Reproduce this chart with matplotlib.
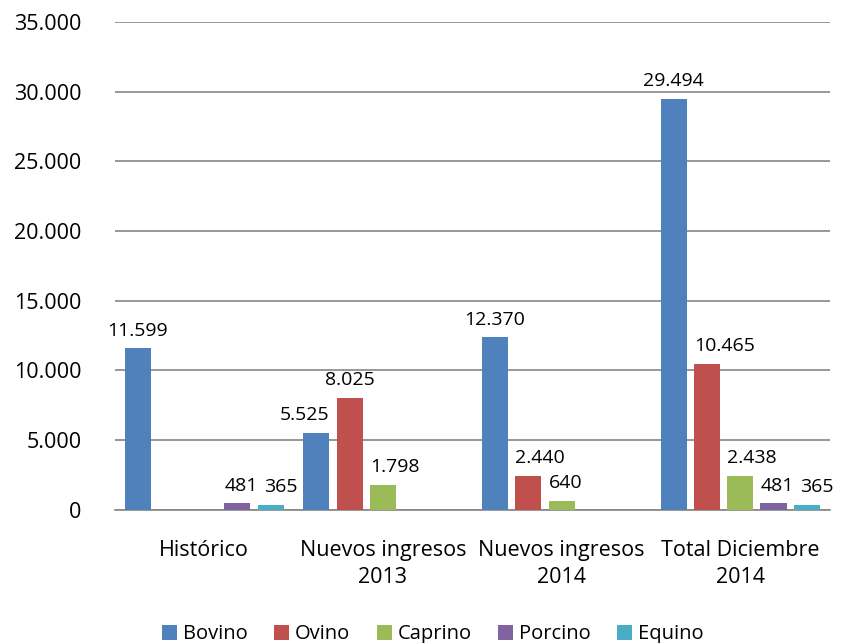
import numpy as np
import matplotlib.pyplot as plt
import matplotlib.ticker as ticker

categories = ['Histórico', 'Nuevos ingresos\n2013', 'Nuevos ingresos\n2014', 'Total Diciembre\n2014']
series = ['Bovino', 'Ovino', 'Caprino', 'Porcino', 'Equino']
bovino = [11599, 5525, 12370, 29494]
ovino = [0, 8025, 2440, 10465]
caprino = [0, 1798, 640, 2438]
porcino = [481, 0, 0, 481]
equino = [365, 0, 0, 365]
colors = ['#4f81bd', '#c0504d', '#9bbb59', '#8064a2', '#4bacc6']

plt.rcParams['font.family'] = ['Open Sans', 'DejaVu Sans']

def fmt(v):
    return '{:,.0f}'.format(v).replace(',', '.')

fig = plt.figure(figsize=(8.44, 6.43), dpi=100)
ax = fig.add_axes([0.136, 0.207, 0.847, 0.759])

x = np.arange(len(categories))
pitch = 0.186
width = 0.146
data = [bovino, ovino, caprino, porcino, equino]
bars = []
for i, (name, vals) in enumerate(zip(series, data)):
    pos = x + (i - 2) * pitch
    bars.append(ax.bar(pos, vals, width, color=colors[i], label=name, zorder=3))

ax.set_xlim(-0.5, 3.5)
ax.set_ylim(0, 35000)
ax.yaxis.set_major_locator(ticker.MultipleLocator(5000))
ax.yaxis.set_major_formatter(ticker.FuncFormatter(lambda v, p: fmt(v)))
ax.grid(axis='y', color='#868686', linewidth=1.2, zorder=0)
for s in ['top', 'right', 'left']:
    ax.spines[s].set_visible(False)
ax.spines['bottom'].set_color('#868686')
ax.spines['bottom'].set_linewidth(1.2)
ax.tick_params(axis='both', length=0)
ax.tick_params(axis='y', pad=24, labelsize=15.5)
ax.tick_params(axis='x', pad=22, labelsize=15.5)
ax.set_xticks(x)
ax.set_xticklabels(categories, linespacing=1.35)

# data labels: tallest bar centred, the one before it right-aligned, others left-aligned,
# nudged right only when they would overlap the previous label
fig.canvas.draw()
renderer = fig.canvas.get_renderer()
for g in range(len(categories)):
    vals = [d[g] for d in data]
    top = int(np.argmax(vals))
    prev = None
    for i in range(len(series)):
        v = vals[i]
        if v <= 0:
            continue
        r = bars[i][g]
        if i == top:
            xa, ha = r.get_x() + r.get_width() / 2, 'center'
        elif i == top - 1:
            xa, ha = r.get_x() + r.get_width(), 'right'
        else:
            xa, ha = r.get_x(), 'left'
        t = ax.annotate(fmt(v), (xa, v), xytext=(0, 9), textcoords='offset points',
                        ha=ha, va='baseline', fontsize=14)
        bb = t.get_window_extent(renderer)
        if prev is not None and bb.overlaps(prev) and bb.x0 < prev.x1 + 6:
            t.xyann = ((prev.x1 + 6 - bb.x0) * 72 / fig.dpi, 9)
            bb = t.get_window_extent(renderer)
        prev = bb

fig.legend(loc='lower center', bbox_to_anchor=(0.513, -0.03), ncol=5, frameon=False,
           fontsize=14.5, handlelength=0.75, handleheight=0.75, handletextpad=0.3, columnspacing=1.3)

plt.savefig('out.png', dpi=100)
